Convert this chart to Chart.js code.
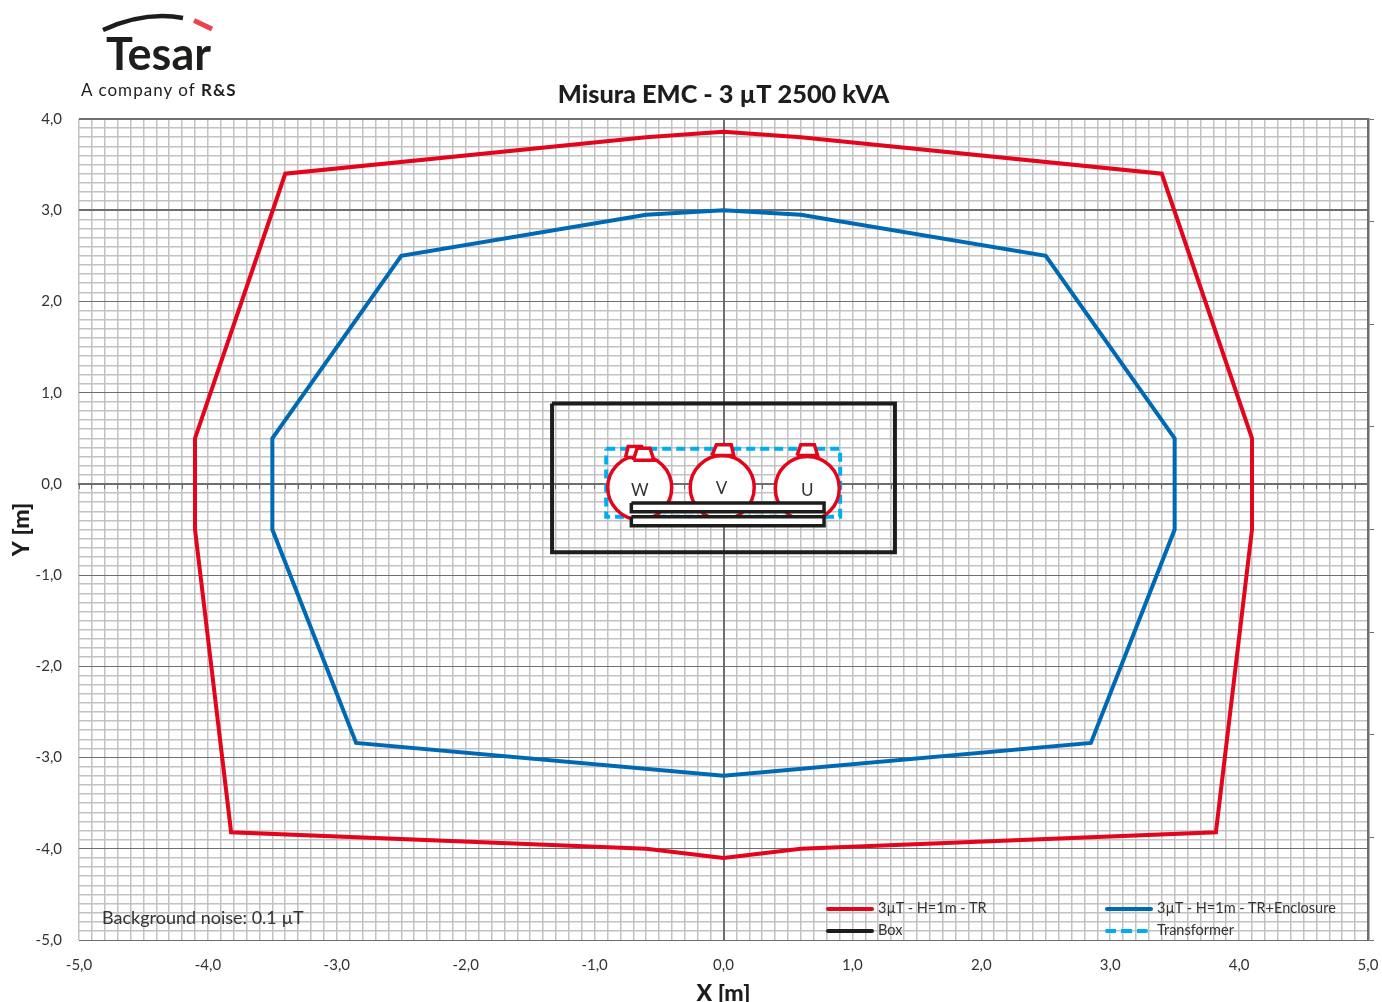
<!DOCTYPE html>
<html>
<head>
<meta charset="utf-8">
<title>Misura EMC</title>
<script src="https://cdn.jsdelivr.net/npm/chart.js@4"></script>
<style>
  html, body { margin: 0; padding: 0; background: #fff; }
  #page { position: relative; width: 1382px; height: 1002px; overflow: hidden; font-family: Lato, sans-serif; color: #333; }
  #chart { position: absolute; left: 0; top: 0; }
  .txt { position: absolute; white-space: nowrap; line-height: 1; }
  .swatch { position: absolute; height: 3.5px; border-radius: 2px; }
</style>
</head>
<body>
<div id="page">
  <canvas id="chart" width="1382" height="1002"></canvas>
  <svg style="position:absolute;left:0;top:0" width="260" height="60">
    <path d="M103 30 Q145 11 183 18" fill="none" stroke="#1d1d1b" stroke-width="4.5"/>
    <path d="M194 20.5 L212 29" fill="none" stroke="#e9444f" stroke-width="5"/>
  </svg>
  <div class="txt" style="left:106px;top:31px;font-size:45px;font-weight:700;color:#1d1d1b">Tesar</div>
  <div class="txt" style="left:81px;top:81px;font-size:17px;letter-spacing:1.05px;color:#1d1d1b">A company of <b>R&amp;S</b></div>
  <div class="txt" style="left:102px;top:908px;font-size:18px">Background noise: 0.1 µT</div>
  <div id="legendBox"></div>
</div>
<script>
// Values, in metres
const xTickLabels = ['-5,0', '-4,0', '-3,0', '-2,0', '-1,0', '0,0', '1,0', '2,0', '3,0', '4,0', '5,0'];
const yTickLabels = ['-5,0', '-4,0', '-3,0', '-2,0', '-1,0', '0,0', '1,0', '2,0', '3,0', '4,0'];

const redX = [0, 0.6, 3.4, 4.1, 4.1, 3.82, 0.6, 0, -0.6, -3.82, -4.1, -4.1, -3.4, -0.6, 0];
const redY = [3.86, 3.8, 3.4, 0.5, -0.5, -3.82, -4.0, -4.1, -4.0, -3.82, -0.5, 0.5, 3.4, 3.8, 3.86];

const blueX = [0, 0.6, 2.5, 3.5, 3.5, 2.85, 0, -2.85, -3.5, -3.5, -2.5, -0.6, 0];
const blueY = [3.0, 2.95, 2.5, 0.5, -0.5, -2.84, -3.2, -2.84, -0.5, 0.5, 2.5, 2.95, 3.0];

const boxX = [-1.33, 1.33, 1.33, -1.33, -1.33];
const boxY = [0.88, 0.88, -0.75, -0.75, 0.88];

const transformerX = [-0.91, 0.905, 0.905, -0.91, -0.91];
const transformerY = [0.385, 0.385, -0.36, -0.36, 0.385];

// phases W, V, U
const phaseNames = ['W', 'V', 'U'];
const phaseX = [-0.65, -0.01, 0.65];
const phaseY = [-0.04, -0.04, -0.05];
const phaseR = [32, 32, 32];
const phaseTextX = [-0.65, -0.015, 0.65];
const phaseTextY = [-0.07, -0.05, -0.07];

const bushingBackX = [-0.76, -0.74, -0.635, -0.6, -0.76];
const bushingBackY = [0.29, 0.41, 0.41, 0.29, 0.29];
const bushingWX = [-0.7, -0.67, -0.57, -0.54, -0.7];
const bushingWY = [0.26, 0.39, 0.39, 0.26, 0.26];
const bushingVX = [-0.09, -0.055, 0.06, 0.08, -0.09];
const bushingVY = [0.31, 0.43, 0.43, 0.31, 0.31];
const bushingUX = [0.57, 0.6, 0.705, 0.73, 0.57];
const bushingUY = [0.31, 0.43, 0.43, 0.31, 0.31];

const barTopX = [-0.715, 0.78, 0.78, -0.715, -0.715];
const barTopY = [-0.21, -0.21, -0.305, -0.305, -0.21];
const barBottomX = [-0.715, 0.78, 0.78, -0.715, -0.715];
const barBottomY = [-0.36, -0.36, -0.46, -0.46, -0.36];

const RED = '#e3051b';
const BLUE = '#0069b4';
const BLACK = '#1d1d1b';
const CYAN = '#00aeef';
const GRID = '#c2c2c2';
const AXIS = '#6e6e6e';
const TEXT = '#333333';

const zip = (xs, ys) => xs.map((x, i) => ({ x: x, y: ys[i] }));

function outline(label, xs, ys, color, order, extra) {
  return Object.assign({
    type: 'scatter',
    label: label,
    data: zip(xs, ys),
    showLine: true,
    borderColor: color,
    borderWidth: 4,
    pointRadius: 0,
    borderJoinStyle: 'miter',
    xAxisID: 'x',
    yAxisID: 'y',
    order: order,
  }, extra || {});
}

const whiteFill = { fill: 'shape', backgroundColor: '#ffffff', borderWidth: 3.5 };

const datasets = [
  outline('3µT - H=1m - TR', redX, redY, RED, 6),
  outline('3µT - H=1m - TR+Enclosure', blueX, blueY, BLUE, 6),
  outline('Box', boxX, boxY, BLACK, 5),
  outline('Transformer', transformerX, transformerY, CYAN, 4, { borderDash: [9, 5] }),
  {
    type: 'bubble',
    label: 'Phases',
    data: phaseX.map((x, i) => ({ x: x, y: phaseY[i], r: phaseR[i] })),
    backgroundColor: '#ffffff',
    borderColor: RED,
    borderWidth: 3.5,
    xAxisID: 'x',
    yAxisID: 'y',
    order: 3,
  },
  outline('bushing W back', bushingBackX, bushingBackY, RED, 2.9, whiteFill),
  outline('bushing W', bushingWX, bushingWY, RED, 2.8, whiteFill),
  outline('bushing V', bushingVX, bushingVY, RED, 2.8, whiteFill),
  outline('bushing U', bushingUX, bushingUY, RED, 2.8, whiteFill),
  outline('bar top', barTopX, barTopY, BLACK, 1, whiteFill),
  outline('bar bottom', barBottomX, barBottomY, BLACK, 1, whiteFill),
];

// W V U letters on the circles
const phaseLetters = {
  id: 'phaseLetters',
  afterDatasetsDraw(chart) {
    const ctx = chart.ctx;
    ctx.save();
    ctx.font = '17px Lato';
    ctx.fillStyle = TEXT;
    ctx.textAlign = 'center';
    ctx.textBaseline = 'middle';
    phaseNames.forEach((name, i) => {
      ctx.fillText(name, chart.scales.x.getPixelForValue(phaseTextX[i]), chart.scales.y.getPixelForValue(phaseTextY[i]));
    });
    ctx.restore();
  },
};

const isWhole = (v) => Math.abs(v - Math.round(v)) < 1e-6;

new Chart(document.getElementById('chart'), {
  data: { datasets: datasets },
  plugins: [phaseLetters],
  options: {
    responsive: false,
    animation: false,
    // bubbles would otherwise push the plot in from the right
    layout: { autoPadding: false, padding: { top: 80, left: 0, right: 0, bottom: 0 } },
    plugins: {
      legend: { display: false },
      tooltip: { enabled: false },
      title: {
        display: true,
        text: 'Misura EMC - 3 µT 2500 kVA',
        fullSize: false,
        color: BLACK,
        font: { family: 'Lato', size: 25.3, weight: 900, lineHeight: 1.2 },
        padding: { top: 0, bottom: 8.64 },
      },
    },
    scales: {
      x: {
        type: 'linear',
        position: 'bottom',
        min: -5,
        max: 5,
        afterFit(s) { s.height = 62; s.paddingLeft = 0; s.paddingRight = 0; },
        ticks: {
          stepSize: 0.1,
          autoSkip: false,
          maxRotation: 0,
          padding: 16,
          color: TEXT,
          font: { family: 'Lato', size: 15 },
          callback: (v) => (isWhole(v) ? xTickLabels[Math.round(v) + 5] : ''),
        },
        grid: { color: GRID, lineWidth: 1.5, drawTicks: false },
        border: { display: false },
        title: {
          display: true,
          text: 'X [m]',
          color: BLACK,
          font: { family: 'Lato', size: 23, weight: 900 },
          padding: { top: 0, bottom: -5 },
        },
      },
      y: {
        type: 'linear',
        position: 'left',
        min: -5,
        max: 4,
        afterFit(s) { s.width = 79; s.paddingTop = 0; s.paddingBottom = 0; },
        ticks: {
          stepSize: 0.1,
          autoSkip: false,
          padding: 17,
          color: TEXT,
          font: { family: 'Lato', size: 15 },
          callback: (v) => (isWhole(v) ? yTickLabels[Math.round(v) + 5] : ''),
        },
        grid: {
          drawTicks: false,
          color: (c) => (isWhole(c.tick.value) ? AXIS : GRID),
          lineWidth: (c) => {
            if (c.tick.value === 4 || c.tick.value === 3) return 2;
            return isWhole(c.tick.value) ? 1 : 1.5;
          },
        },
        border: { display: false },
        title: {
          display: true,
          text: 'Y [m]',
          color: BLACK,
          font: { family: 'Lato', size: 23, weight: 900 },
          padding: { top: 8, bottom: 0 },
        },
      },
      // right border with its 8 tick marks
      yRight: {
        type: 'linear',
        axis: 'y',
        position: 'right',
        min: 0,
        max: 8,
        afterFit(s) { s.width = 14; },
        ticks: { stepSize: 1, display: false },
        grid: { drawOnChartArea: false, color: AXIS, tickLength: 6, lineWidth: 1 },
        border: { color: AXIS, width: 2.5 },
      },
      // the two axes through the origin
      xZero: {
        type: 'linear',
        axis: 'x',
        position: { y: 0 },
        min: -5,
        max: 5,
        ticks: { stepSize: 0.1, autoSkip: false, display: false },
        grid: { drawOnChartArea: false, color: AXIS, tickLength: 4, lineWidth: 1 },
        border: { color: AXIS, width: 2 },
      },
      yZero: {
        type: 'linear',
        axis: 'y',
        position: { x: 0 },
        min: -5,
        max: 4,
        ticks: { stepSize: 1, display: false },
        grid: { drawOnChartArea: false, color: AXIS, tickLength: 4, lineWidth: 1 },
        border: { color: AXIS, width: 2 },
      },
    },
  },
});

// Legend sits inside the plot in two columns
const legendItems = [
  { name: datasets[0].label, color: RED, x: 826, y: 908, w: 48 },
  { name: datasets[1].label, color: BLUE, x: 1105, y: 908, w: 48 },
  { name: datasets[2].label, color: BLACK, x: 826, y: 930, w: 48 },
  { name: datasets[3].label, color: CYAN, x: 1105, y: 930, w: 43, dash: true },
];
const legendBox = document.getElementById('legendBox');
legendItems.forEach((item) => {
  const line = document.createElement('div');
  line.className = 'swatch';
  line.style.left = item.x + 'px';
  line.style.top = item.y - 1 + 'px';
  line.style.width = item.w + 'px';
  line.style.background = item.dash
    ? `repeating-linear-gradient(90deg, ${item.color} 0 11px, transparent 11px 16px)`
    : item.color;
  legendBox.appendChild(line);
  const label = document.createElement('div');
  label.className = 'txt';
  label.textContent = item.name;
  label.style.left = item.x + 52 + 'px';
  label.style.top = item.y - 7 + 'px';
  label.style.fontSize = '14.5px';
  legendBox.appendChild(label);
});
</script>
</body>
</html>
